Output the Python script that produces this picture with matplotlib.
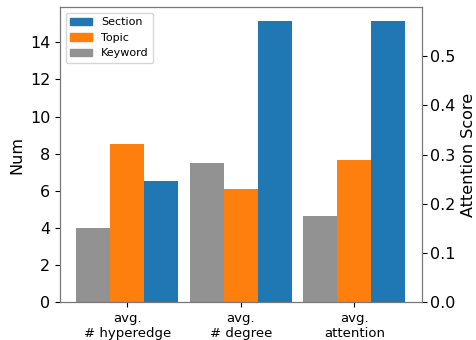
import matplotlib
matplotlib.use('Agg')
import matplotlib.pyplot as plt
from matplotlib.patches import Patch
import numpy as np

groups = ['avg.\n# hyperedge', 'avg.\n# degree', 'avg.\nattention']
series = ['Keyword', 'Topic', 'Section']
colors = ['#929292', '#ff7f0e', '#1f77b4']

# counts (left axis) for the first two groups
keyword_num = [4.0, 7.5]
topic_num = [8.54, 6.11]
section_num = [6.54, 15.13]

# attention scores (right axis) for the last group
keyword_att = 0.176
topic_att = 0.290
section_att = 0.571

width = 0.3
x = np.arange(len(groups))
offsets = [-width, 0, width]

fig = plt.figure(figsize=(4.76, 3.4), dpi=100)
ax = fig.add_axes([0.126, 0.111, 0.76, 0.8675])
ax2 = ax.twinx()

nums = [keyword_num, topic_num, section_num]
atts = [keyword_att, topic_att, section_att]
for vals, att, off, c in zip(nums, atts, offsets, colors):
    ax.bar(x[:2] + off, vals, width, color=c)
    ax2.bar(x[2] + off, att, width, color=c)

ax.set_xticks(x)
ax.set_xticklabels(groups, fontsize=9.5)
ax.set_ylabel('Num', fontsize=11.5)
ax2.set_ylabel('Attention Score', fontsize=11.5)
ax.tick_params(axis='y', labelsize=11.5)
ax2.tick_params(axis='y', labelsize=11.5, pad=2.5)

for a in (ax, ax2):
    for sp in a.spines.values():
        sp.set_color('#777777')

handles = [Patch(color=c, label=s) for s, c in zip(series, colors)][::-1]
ax.legend(handles=handles, loc='upper left', fontsize=8)

fig.savefig('out.png', dpi=100)
